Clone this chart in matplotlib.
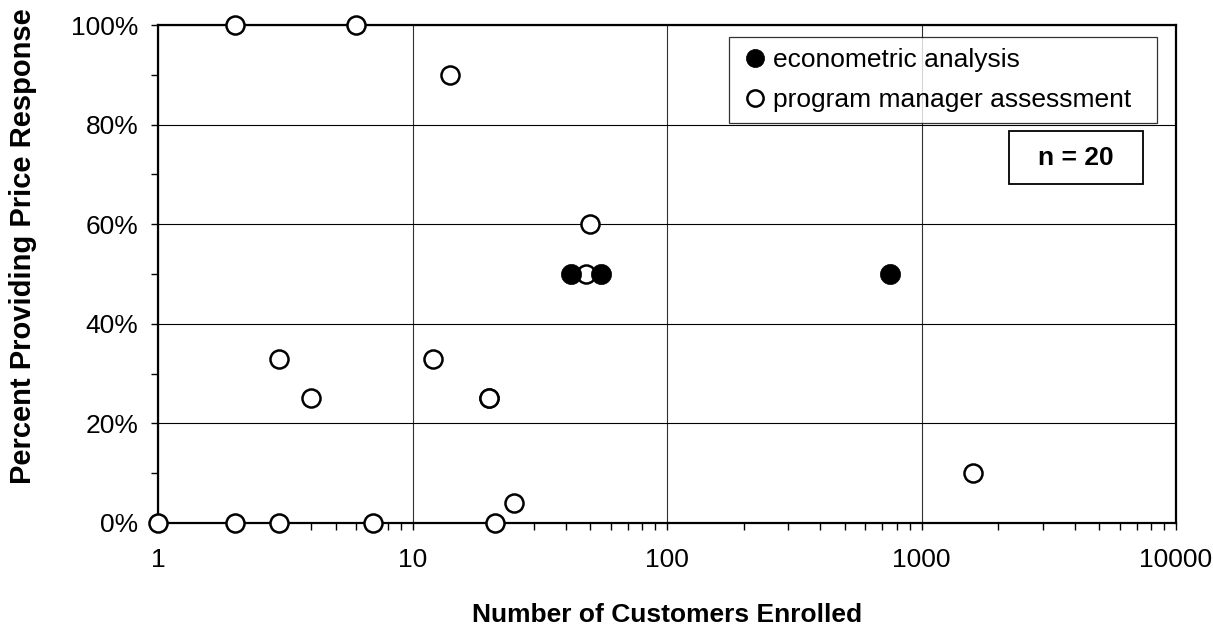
import matplotlib
matplotlib.use('Agg')
import matplotlib.pyplot as plt
from matplotlib.patches import Rectangle
from matplotlib.ticker import FixedLocator, PercentFormatter, NullFormatter

plt.rcParams['font.family'] = ['Liberation Sans', 'DejaVu Sans']

# econometric analysis: number of customers, percent responding
econ_customers = [42, 55, 750]
econ_percent = [50, 50, 50]

# program manager assessment
pm_customers = [2, 6, 14, 50, 48, 3, 12, 4, 20, 20, 25, 1, 2, 3, 7, 21, 1600]
pm_percent = [100, 100, 90, 60, 50, 33, 33, 25, 25, 25, 4, 0, 0, 0, 0, 0, 10]

x_ticks = [1, 10, 100, 1000, 10000]
x_tick_labels = ['1', '10', '100', '1000', '10000']
y_ticks = [0, 20, 40, 60, 80, 100]

fig = plt.figure(figsize=(12.13, 6.33), dpi=100)
ax = fig.add_axes([0.1303, 0.1738, 0.8392, 0.7867])

ax.plot(pm_customers, pm_percent, linestyle='none', marker='o', markersize=13,
        markerfacecolor='white', markeredgecolor='black', markeredgewidth=1.8,
        clip_on=False, zorder=3, label='program manager assessment')
ax.plot(econ_customers, econ_percent, linestyle='none', marker='o', markersize=14.5,
        markerfacecolor='black', markeredgecolor='black', markeredgewidth=0.5,
        clip_on=False, zorder=4, label='econometric analysis')

ax.set_xscale('log')
ax.set_xlim(1, 10000)
ax.set_ylim(0, 100)

ax.xaxis.set_major_locator(FixedLocator(x_ticks))
ax.set_xticklabels(x_tick_labels)
ax.xaxis.set_minor_locator(FixedLocator([m * 10 ** d for d in range(4) for m in range(2, 10)]))
ax.xaxis.set_minor_formatter(NullFormatter())
ax.yaxis.set_major_locator(FixedLocator(y_ticks))
ax.yaxis.set_minor_locator(FixedLocator(range(10, 100, 20)))
ax.yaxis.set_major_formatter(PercentFormatter(decimals=0))

ax.tick_params(which='both', direction='out', length=5, width=1, colors='black',
               labelsize=19)
ax.tick_params(axis='x', which='major', pad=13)
ax.tick_params(axis='y', which='major', pad=9)

# grid
ax.grid(True, axis='y', which='major', color='black', linewidth=0.8)
ax.grid(True, axis='x', which='major', color='#303030', linewidth=0.8)
ax.set_axisbelow(True)

for s in ax.spines.values():
    s.set_linewidth(1.6)
    s.set_color('black')

ax.set_xlabel('Number of Customers Enrolled', fontsize=19, fontweight='bold', va='center')
ax.xaxis.set_label_coords(0.5, -0.185)
ax.set_ylabel('Percent Providing Price Response', fontsize=21, fontweight='bold', va='center')
ax.yaxis.set_label_coords(-0.1326, 0.556)

# legend, filled series first
handles, labels = ax.get_legend_handles_labels()
leg = ax.legend(handles[::-1], labels[::-1], loc='upper left',
                bbox_to_anchor=(0.561, 0.3, 0.4204, 0.6765), mode='expand',
                borderaxespad=0, fontsize=19, frameon=True, fancybox=False, edgecolor='black',
                handletextpad=0.15, handlelength=1.1, borderpad=0.42, labelspacing=0.62,
                markerscale=0.9)
leg.get_frame().set_linewidth(0.9)

# n = 20 box
ax.add_patch(Rectangle((0.8362, 0.6808), 0.131, 0.1056, transform=ax.transAxes,
                       facecolor='white', edgecolor='black', linewidth=1.3, zorder=5))
ax.text(0.902, 0.7335, 'n = 20', transform=ax.transAxes, ha='center', va='center',
        fontsize=19, fontweight='bold', zorder=6)

fig.savefig('out.png', dpi=100)
